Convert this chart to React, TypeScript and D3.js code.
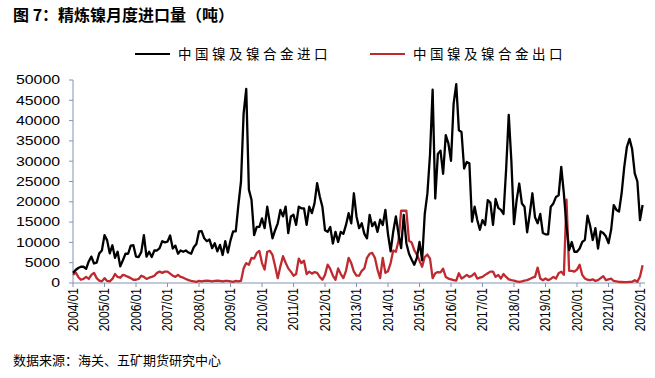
import React from 'react';
import * as d3 from 'd3';

// Monthly data, 2004/01 – 2022/02 (tonnes)
const nickelImports: number[] = [
  // 2004
  2500, 3200, 3700, 4000, 4000, 3500, 5300, 6500, 4800, 5000, 7300, 8000,
  // 2005
  11800, 10500, 7300, 9300, 6200, 7700, 4100, 5600, 7200, 7200, 9200, 9300,
  // 2006
  6500, 6400, 7600, 11800, 6500, 7700, 6400, 8000, 8000, 8600, 10300, 10000,
  // 2007
  10200, 11700, 8500, 9200, 7200, 8000, 7700, 8000, 7500, 7200, 8800, 9600,
  // 2008
  12700, 12800, 11000, 10300, 10700, 8600, 9800, 7800, 9400, 6900, 10300, 7500,
  // 2009
  10500, 12700, 12700, 19200, 25000, 41800, 47800, 23000, 20500, 11800, 13800, 13800,
  // 2010
  15900, 13500, 18800, 14700, 11000, 13000, 14700, 18000, 16400, 18800, 12300, 16400,
  // 2011
  16800, 14300, 18800, 18400, 18400, 14300, 18800, 17200, 19600, 24600, 21300, 18800,
  // 2012
  13000, 12600, 13800, 9700, 12600, 10100, 12600, 12100, 14300, 17200, 14700, 22100,
  // 2013
  16400, 13500, 14700, 12100, 11000, 16800, 14000, 15000, 12600, 15600, 14300, 18000,
  // 2014
  12000, 7800, 12700, 16400, 12100, 8600, 16800, 9800, 7200, 5800, 4500, 6200,
  // 2015
  10100, 5600, 17000, 22000, 31600, 47600, 20800, 31800, 32600, 26900, 36400, 34400,
  // 2016
  30100, 44200, 49000, 37600, 37200, 28200, 29800, 29500, 15100, 18800, 15500, 13100,
  // 2017
  15500, 14300, 20400, 19800, 14300, 20700, 18500, 18000, 17000, 28000, 41400, 30000,
  // 2018
  14500, 20400, 24500, 19600, 18800, 12500, 17000, 22100, 16200, 14700, 17000, 12300,
  // 2019
  12000, 12000, 18800, 19600, 21200, 21600, 28600, 22000, 13900, 8100, 10100, 7700,
  // 2020
  7700, 8500, 10100, 10600, 16600, 14100, 10600, 13500, 8500, 12700, 12300, 11500,
  // 2021
  9800, 13100, 19200, 18000, 17600, 22100, 28600, 33500, 35500, 33000, 27000, 25000,
  // 2022
  15500, 19200,
];

const nickelExports: number[] = [
  // 2004
  2000, 2600, 1500, 800, 1000, 1500, 1000, 2000, 2500, 1200, 600, 400,
  // 2005
  1200, 500, 400, 1000, 2200, 1500, 1300, 2000, 1800, 1500, 1200, 800,
  // 2006
  800, 1000, 1800, 1500, 1000, 1300, 1500, 1800, 2500, 2800, 2500, 2800,
  // 2007
  2800, 2300, 1800, 1500, 2000, 1500, 1300, 1000, 700, 500, 400, 300,
  // 2008
  500, 400, 500, 600, 500, 400, 500, 600, 500, 400, 500, 500,
  // 2009
  400, 300, 500, 400, 500, 3600, 4900, 4500, 6200, 6000, 7400, 7900,
  // 2010
  4900, 3300, 7700, 7900, 6900, 4100, 1200, 4100, 6600, 5000, 3600, 2800,
  // 2011
  1800, 2200, 6000, 4900, 5500, 2200, 2800, 2300, 2700, 2500, 1500, 800,
  // 2012
  2000, 4500, 3500, 1800, 800, 3600, 2200, 1200, 3000, 6200, 4900, 2800,
  // 2013
  1800, 1800, 3000, 3600, 6200, 7200, 7400, 6200, 3300, 1200, 6200, 2500,
  // 2014
  2900, 4900, 8000, 7700, 10400, 17800, 17800, 17800, 10400, 10000, 8100, 7000,
  // 2015
  5500, 4000, 6400, 7000, 6000, 1200, 2400, 2700, 2600, 3500, 1500, 1100,
  // 2016
  900, 700, 600, 2400, 1100, 1500, 2000, 1500, 1800, 2400, 1100, 1300,
  // 2017
  1500, 2000, 2400, 2800, 2800, 1500, 2000, 1100, 2200, 1500, 900, 700,
  // 2018
  600, 400, 300, 400, 600, 700, 1000, 1300, 1500, 3800, 1100, 700,
  // 2019
  1100, 700, 1000, 1500, 1100, 2400, 2800, 2000, 20500, 3000, 3000, 2800,
  // 2020
  3300, 4500, 2000, 1100, 800, 700, 900, 500, 700, 1200, 1700, 700,
  // 2021
  900, 1100, 500, 400, 300, 250, 200, 200, 300, 300, 700, 300,
  // 2022
  1600, 4400,
];

const yTicks: number[] = [0, 5000, 10000, 15000, 20000, 25000, 30000, 35000, 40000, 45000, 50000];

const xTickLabels: string[] = [
  '2004/01', '2005/01', '2006/01', '2007/01', '2008/01', '2009/01', '2010/01',
  '2011/01', '2012/01', '2013/01', '2014/01', '2015/01', '2016/01', '2017/01',
  '2018/01', '2019/01', '2020/01', '2021/01', '2022/01',
];

const seriesNames: string[] = ['中国镍及镍合金进口', '中国镍及镍合金出口'];
const seriesColors: string[] = ['#000000', '#BE2A2F'];

const title = '图 7：精炼镍月度进口量（吨）';
const source = '数据来源：海关、五矿期货研究中心';

export default function App() {
  const W = 655;
  const H = 378;
  const x = d3.scaleLinear().domain([0, 216]).range([73, 640]);
  const y = d3.scaleLinear().domain([0, 50000]).range([283, 80]);
  const line = d3
    .line<number>()
    .x((_, i) => x(i))
    .y((d) => y(d));
  const axisColor = '#8094B4';
  const cjk = '"Noto Sans CJK SC", "Noto Sans", sans-serif';
  const latin = '"Liberation Sans", Arial, sans-serif';

  return (
    <svg
      width={W}
      height={H}
      viewBox={`0 0 ${W} ${H}`}
      style={{ position: 'absolute', left: 0, top: 0, background: '#fff' }}
    >
      <rect x={0} y={0} width={W} height={H} fill="#fff" />
      {/* Title */}
      <text x={13} y={21} fontFamily={cjk} fontWeight="bold" fontSize={16} fill="#000">
        {title}
      </text>

      {/* Legend */}
      <line x1={135} x2={170} y1={54} y2={54} stroke={seriesColors[0]} strokeWidth={2.2} />
      <text x={178} y={59} fontFamily={cjk} fontSize={13.5} letterSpacing={3.5} fill="#000">
        {seriesNames[0]}
      </text>
      <line x1={370} x2={405} y1={54} y2={54} stroke={seriesColors[1]} strokeWidth={2.2} />
      <text x={413} y={59} fontFamily={cjk} fontSize={13.5} letterSpacing={3.5} fill="#000">
        {seriesNames[1]}
      </text>

      {/* Y axis */}
      <line x1={x(0)} x2={x(0)} y1={y(50000)} y2={y(0)} stroke={axisColor} strokeWidth={1} />
      {yTicks.map((v) => (
        <g key={v}>
          <line x1={x(0) - 4} x2={x(0)} y1={y(v)} y2={y(v)} stroke={axisColor} strokeWidth={1} />
          <text
            transform={`translate(60,${y(v) + 4.3}) scale(1.32,1)`}
            textAnchor="end"
            fontFamily={latin}
            fontSize={12}
            fill="#000"
          >
            {v}
          </text>
        </g>
      ))}

      {/* X axis */}
      <line x1={x(0)} x2={645} y1={y(0)} y2={y(0)} stroke={axisColor} strokeWidth={1} />
      {xTickLabels.map((lab, k) => {
        const tx = x(k * 12);
        return (
          <g key={lab}>
            <line x1={tx} x2={tx} y1={y(0)} y2={y(0) + 4} stroke={axisColor} strokeWidth={1} />
            <text
              transform={`translate(${tx + 4.8},288) rotate(-90) scale(1.0,1.15)`}
              textAnchor="end"
              fontFamily={latin}
              fontSize={12}
              fill="#000"
            >
              {lab}
            </text>
          </g>
        );
      })}

      {/* Series */}
      <path d={line(nickelExports) || ''} fill="none" stroke={seriesColors[1]} strokeWidth={2.3} strokeLinejoin="round" />
      <path d={line(nickelImports) || ''} fill="none" stroke={seriesColors[0]} strokeWidth={2.3} strokeLinejoin="round" />

      {/* Source */}
      <text x={13} y={365} fontFamily={cjk} fontSize={13} fill="#000">
        {source}
      </text>
    </svg>
  );
}
